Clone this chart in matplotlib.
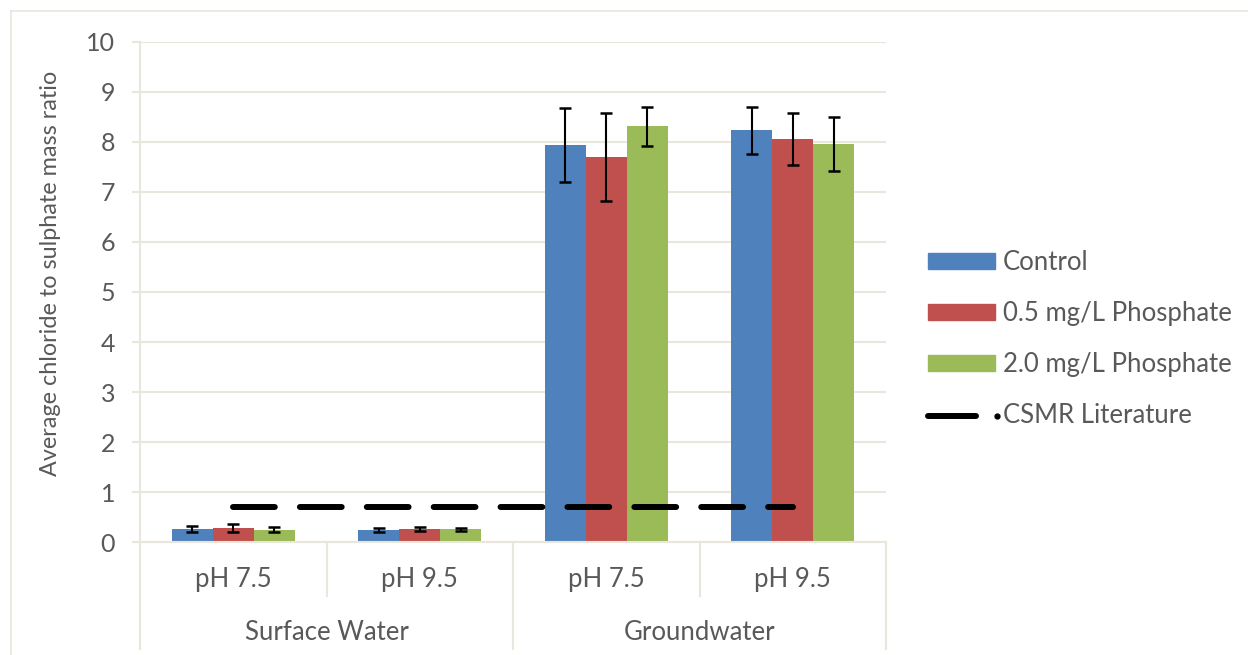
import numpy as np
import matplotlib.pyplot as plt
import matplotlib.transforms as mtransforms
from matplotlib.lines import Line2D
from matplotlib.patches import Patch

plt.rcParams['font.family'] = ['Lato', 'DejaVu Sans']

# chart data
sub_labels = ["pH 7.5", "pH 9.5", "pH 7.5", "pH 9.5"]
group_labels = ["Surface Water", "Groundwater"]
series_names = ["Control", "0.5 mg/L Phosphate", "2.0 mg/L Phosphate"]
control = [0.27, 0.24, 7.93, 8.23]
control_err = [0.06, 0.04, 0.74, 0.47]
phos_05 = [0.28, 0.26, 7.69, 8.05]
phos_05_err = [0.08, 0.04, 0.88, 0.52]
phos_20 = [0.25, 0.26, 8.31, 7.96]
phos_20_err = [0.05, 0.03, 0.39, 0.54]
csmr = [0.7, 0.7, 0.7, 0.7]
csmr_name = "CSMR Literature"

colors = ["#4F81BD", "#C0504D", "#9BBB59"]
text_col = "#595959"
grid_col = "#E9E6DC"
fs = 18.5
fs_ylab = 16.8


class DotLineHandler:
    """legend key: short solid line followed by a small dot"""

    def legend_artist(self, legend, orig_handle, fontsize, handlebox):
        x0, y0 = handlebox.xdescent, handlebox.ydescent
        w, h = handlebox.width, handlebox.height
        ln = Line2D([x0, x0 + 0.72 * w], [y0 + h / 2, y0 + h / 2],
                    color="black", lw=4.3, solid_capstyle="round",
                    transform=handlebox.get_transform())
        dot = Line2D([x0 + 1.03 * w], [y0 + h / 2], marker="o", ms=3.5,
                     color="black", lw=0, transform=handlebox.get_transform())
        handlebox.add_artist(ln)
        handlebox.add_artist(dot)
        return ln


fig = plt.figure(figsize=(12.48, 6.55), dpi=100)
ax = fig.add_axes([0.1122, 0.1725, 0.5978, 0.7634])

x = np.arange(len(sub_labels))
w = 0.22
values = [control, phos_05, phos_20]
errors = [control_err, phos_05_err, phos_20_err]
for i in range(3):
    ax.bar(x + (i - 1) * w, values[i], w, color=colors[i], zorder=2,
           yerr=errors[i], capsize=4.3,
           error_kw=dict(ecolor="black", elinewidth=1.5, capthick=1.8))

line, = ax.plot(x, csmr, color="black", lw=4.3, dashes=(7, 4.2),
                dash_capstyle="round", zorder=3)

ax.set_xlim(-0.5, 3.5)
ax.set_ylim(0, 10)
ax.set_yticks(range(0, 11))
ax.yaxis.grid(True, color=grid_col, lw=1.5, zorder=0)
ax.set_axisbelow(True)
ax.tick_params(axis="y", colors=grid_col, length=6, width=1.5, pad=12,
               labelsize=18, labelcolor=text_col)
ax.set_xticks([])
for s in ["top", "right"]:
    ax.spines[s].set_visible(False)
ax.spines["left"].set_color(grid_col)
ax.spines["bottom"].set_color(grid_col)
ax.spines["left"].set_linewidth(1.5)
ax.spines["bottom"].set_linewidth(1.5)

fig.text(51 / 1248, 1 - 273 / 655, "Average chloride to sulphate mass ratio",
         rotation=90, ha="center", va="center", fontsize=fs_ylab,
         color=text_col)

# two-level category axis
tr = mtransforms.blended_transform_factory(ax.transData, ax.transAxes)
for xi, lab in zip(x, sub_labels):
    ax.text(xi, -0.074, lab, transform=tr, ha="center", va="center",
            fontsize=fs, color=text_col)
for gi, lab in enumerate(group_labels):
    ax.text(2 * gi + 0.5, -0.18, lab, transform=tr, ha="center",
            va="center", fontsize=fs, color=text_col)
for xb in [-0.5, 1.5, 3.5]:
    ax.add_line(Line2D([xb, xb], [0, -0.214], transform=tr, color=grid_col,
                       lw=1.5, clip_on=False))
for xb in [0.5, 2.5]:
    ax.add_line(Line2D([xb, xb], [0, -0.108], transform=tr, color=grid_col,
                       lw=1.5, clip_on=False))

# outer chart frame (top and left edges)
fig.add_artist(Line2D([11 / 1248, 1], [1 - 11 / 655, 1 - 11 / 655],
                      transform=fig.transFigure, color=grid_col, lw=1.2))
fig.add_artist(Line2D([11 / 1248, 11 / 1248], [0, 1 - 11 / 655],
                      transform=fig.transFigure, color=grid_col, lw=1.2))

handles = [Patch(color=c) for c in colors] + [line]
labels = series_names + [csmr_name]
leg = fig.legend(handles, labels, loc="center left",
                 bbox_to_anchor=(928 / 1248, 1 - 339 / 655),
                 frameon=False, fontsize=fs, handlelength=2.6,
                 handleheight=0.58, handletextpad=0.3, labelspacing=1.0,
                 borderpad=0, borderaxespad=0,
                 handler_map={line: DotLineHandler()})
for t in leg.get_texts():
    t.set_color(text_col)

fig.savefig("out.png", dpi=100)
